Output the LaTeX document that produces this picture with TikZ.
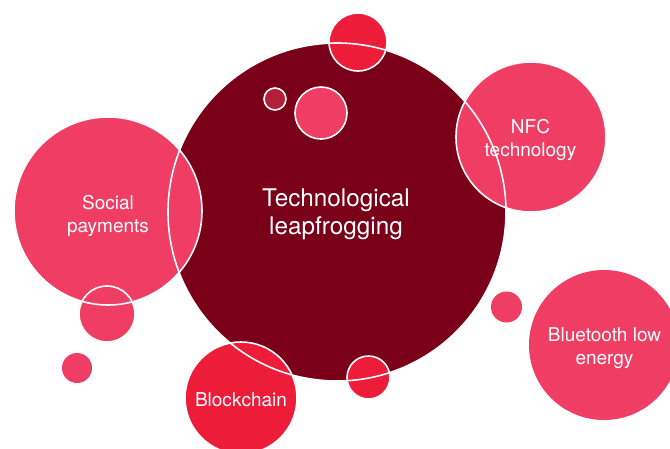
\documentclass[tikz,border=0pt]{standalone}
\usepackage{fontspec}
\setmainfont{TeX Gyre Heros}
\definecolor{darkred}{RGB}{122,0,25}
\definecolor{pinkred}{RGB}{239,61,100}
\definecolor{brightred}{RGB}{237,28,56}
\definecolor{midred}{RGB}{181,30,55}
\begin{document}
\begin{tikzpicture}[x=1pt,y=-1pt,
  blob/.style={circle, inner sep=0pt, outer sep=0pt},
  ring/.style={draw=white, line width=1.6pt},
  lbl/.style={text=white, align=center, inner sep=0pt, anchor=base, font=\fontsize{19}{23}\selectfont},
  bigl/.style={text=white, align=center, inner sep=0pt, anchor=base, font=\fontsize{24.3}{27.5}\selectfont}]
\useasboundingbox (0,0) rectangle (670,448);
\clip (0,0) rectangle (670,448);
% fills
\node[blob, fill=darkred, minimum size=338pt] (big) at (337,212) {};
\node[blob, fill=pinkred, minimum size=188pt] (social) at (108,211) {};
\node[blob, fill=pinkred, minimum size=150pt] (nfc) at (531,137) {};
\node[blob, fill=pinkred, minimum size=150pt] (ble) at (604,345) {};
\node[blob, fill=brightred, minimum size=112pt] (chain) at (241,398) {};
\node[blob, fill=brightred, minimum size=58pt] (topdot) at (358,42) {};
\node[blob, fill=pinkred, minimum size=52pt] (pinkdot) at (321,113) {};
\node[blob, fill=midred, minimum size=22pt] (tinydot) at (275,99) {};
\node[blob, fill=pinkred, minimum size=56pt] (socdot) at (107,314) {};
\node[blob, fill=pinkred, minimum size=30pt] (leftdot) at (77,368) {};
\node[blob, fill=pinkred, minimum size=31pt] (rightdot) at (506.5,307) {};
\node[blob, fill=brightred, minimum size=43pt] (botdot) at (368.5,377.5) {};
% white outlines on top
\foreach \n/\r in {big/169, social/94, nfc/75, chain/56, topdot/29, pinkdot/26, tinydot/11, socdot/28, botdot/21.5}
  \draw[ring] (\n.center) circle[radius=\r pt];
% labels (base = baseline of last line)
\node[bigl] (tmain) at (336,234) {Technological\\leapfrogging};
\node[lbl] (tsocial) at (108,232) {Social\\payments};
\node[lbl] (tnfc) at (530.5,156) {NFC\\technology};
\node[lbl] (tble) at (604.5,364) {Bluetooth low\\energy};
\node[lbl] (tchain) at (241,406) {Blockchain};
\end{tikzpicture}
\end{document}
